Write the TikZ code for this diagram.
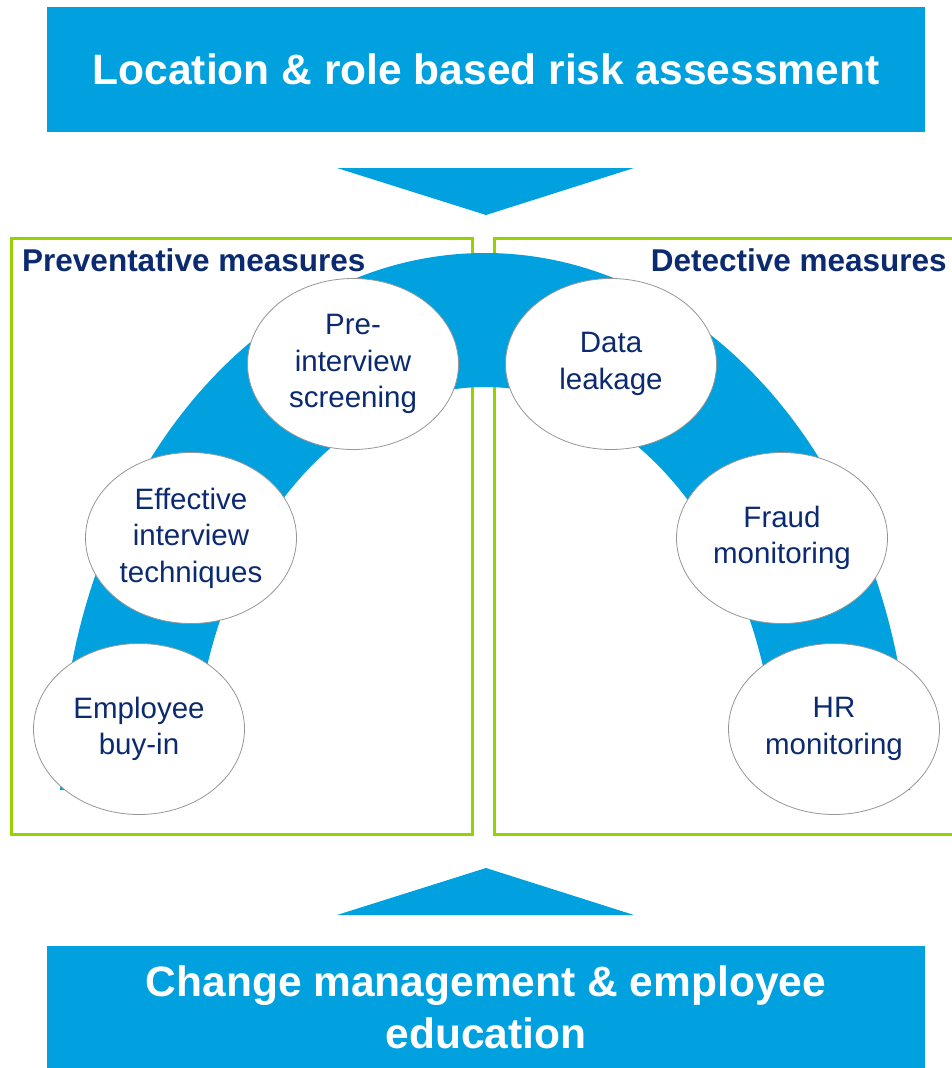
\documentclass[tikz,border=0pt]{standalone}
\usepackage{fontspec}
\setmainfont{Liberation Sans}
\usepackage{tikz}
\usetikzlibrary{shapes.geometric, positioning, calc}
\usepackage{xcolor}
\definecolor{azzurro}{RGB}{0,161,222}
\definecolor{blunotte}{RGB}{11,42,111}
\definecolor{verdelime}{RGB}{150,210,0}
\definecolor{grigio}{RGB}{150,150,150}
\tikzset{
  fascia/.style = {fill=azzurro, text=white, font=\fontsize{42.5}{52}\selectfont\bfseries,
    align=center, minimum width=878pt, inner sep=0pt},
  cornice/.style = {draw=verdelime, line width=3pt},
  titolo/.style = {text=blunotte, font=\fontsize{31.5}{36}\selectfont\bfseries, inner sep=0pt},
  bolla/.style = {ellipse, draw=grigio, line width=0.8pt, fill=white, text=blunotte,
    minimum width=211pt, minimum height=171pt, inner sep=0pt, align=center,
    font=\fontsize{29.5}{36.5}\selectfont}
}

\begin{document}
\begin{tikzpicture}[x = 1pt, y = -1pt]
    % Parametri
    \pgfmathsetmacro{\cx}{485}
    \pgfmathsetmacro{\cy}{790}
    \pgfmathsetmacro{\aout}{425}
    \pgfmathsetmacro{\bout}{537}
    \pgfmathsetmacro{\ain}{292}
    \pgfmathsetmacro{\bin}{403}
    \useasboundingbox (0,0) rectangle (951,1068);
    % Fasce
    \node[fascia, minimum height=125pt] (rischio) at (486,69.5) {Location \& role based risk assessment};
    \node[fascia, minimum height=122pt] (cambio) at (486,1007) {Change management \& employee\\education};
    \fill[azzurro] (337,168) -- (634,168) -- (486,215) -- cycle;
    \fill[azzurro] (337,915) -- (634,915) -- (486,868) -- cycle;
    % Cornici
    \draw[cornice] (11,238) rectangle (472,834);
    \draw[cornice] (494,238) rectangle (965,834);
    \node[titolo, anchor=base west] (prev) at (22,271) {Preventative measures};
    \node[titolo, anchor=base east] (det) at (947,271) {Detective measures};
    % Anello
    \fill[azzurro] ({\cx-\aout},\cy) arc[start angle = 180, end angle = 360, x radius = \aout, y radius = \bout]
      -- ({\cx+\ain},\cy) arc[start angle = 0, end angle = -180, x radius = \ain, y radius = \bin] -- cycle;
    % Bolle
    \node[bolla] (buyin) at (139,729) {Employee\\buy-in};
    \node[bolla] (tecniche) at (191,538) {Effective\\interview\\techniques};
    \node[bolla] (screening) at (353,364) {Pre-\\interview\\screening};
    \node[bolla] (dati) at (611,364) {Data\\leakage};
    \node[bolla] (frode) at (782,538) {Fraud\\monitoring};
    \node[bolla] (hr) at (834,729) {HR\\monitoring};
\end{tikzpicture}
\end{document}
